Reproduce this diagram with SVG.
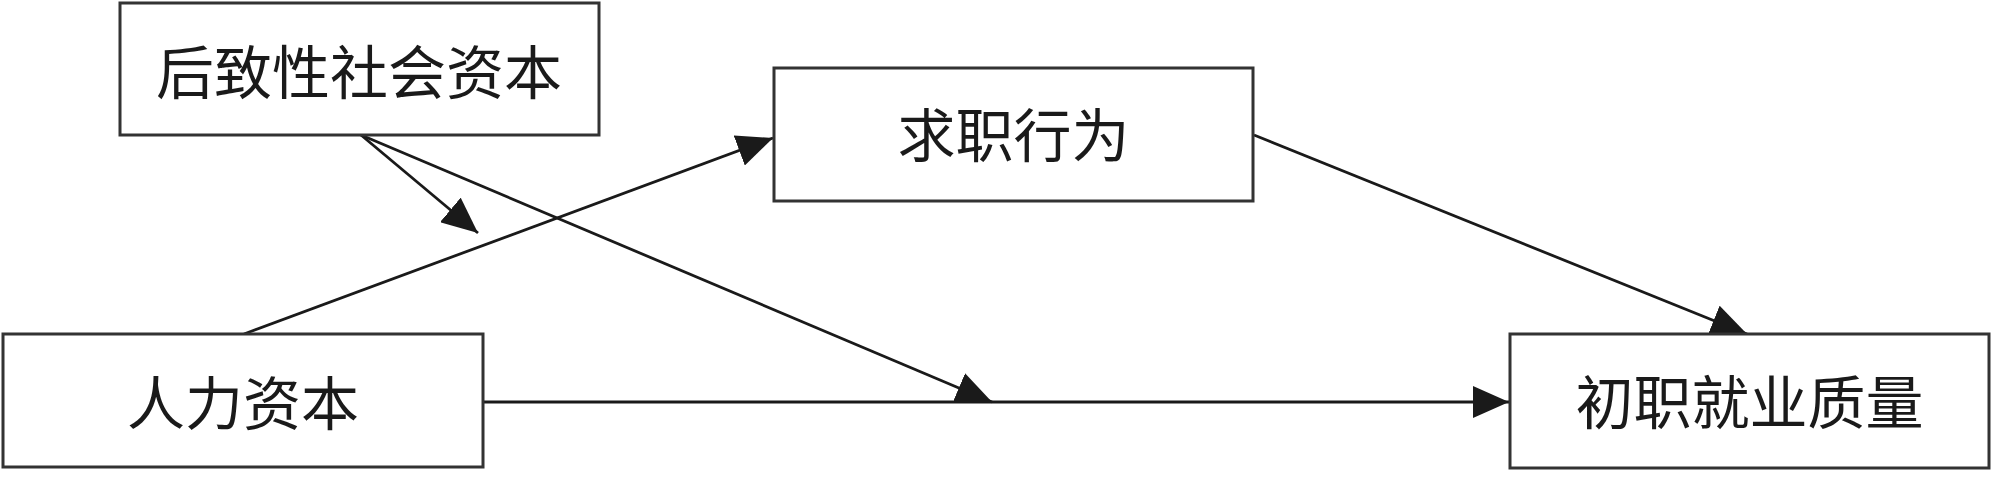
<svg xmlns="http://www.w3.org/2000/svg" width="2000" height="479" viewBox="0 0 2000 479">
<style>
.box{fill:#ffffff;stroke:#333333;stroke-width:3}
.lbl{font-family:"Liberation Serif","Noto Sans CJK SC",serif;font-size:58px;fill:#1a1a1a;text-anchor:middle}
.edge{stroke:#1a1a1a;stroke-width:2.8;fill:none;marker-end:url(#arr)}
</style>
<defs>
<marker id="arr" viewBox="0 0 36 32" refX="36" refY="16" markerWidth="36" markerHeight="32" markerUnits="userSpaceOnUse" orient="auto">
<path d="M0,0 L36,16 L0,32 Z" fill="#1a1a1a"/>
</marker>
</defs>
<rect width="2000" height="479" fill="#ffffff"/>
<g id="connectors">
<line class="edge" x1="361" y1="135" x2="478" y2="233"/>
<line class="edge" x1="361" y1="135" x2="992" y2="402"/>
<line class="edge" x1="244" y1="334" x2="773" y2="138"/>
<line class="edge" x1="483" y1="402" x2="1509" y2="402"/>
<line class="edge" x1="1254" y1="135" x2="1747" y2="334"/>
</g>
<g id="node-houzhi">
<rect class="box" x="120" y="3" width="479" height="132"/>
<text class="lbl" x="359" y="94">后致性社会资本</text>
</g>
<g id="node-qiuzhi">
<rect class="box" x="774" y="68" width="479" height="133"/>
<text class="lbl" x="1013.5" y="157">求职行为</text>
</g>
<g id="node-renli">
<rect class="box" x="3" y="334" width="480" height="133"/>
<text class="lbl" x="243" y="425">人力资本</text>
</g>
<g id="node-chuzhi">
<rect class="box" x="1510" y="334" width="479" height="134"/>
<text class="lbl" x="1749.5" y="424">初职就业质量</text>
</g>
</svg>
